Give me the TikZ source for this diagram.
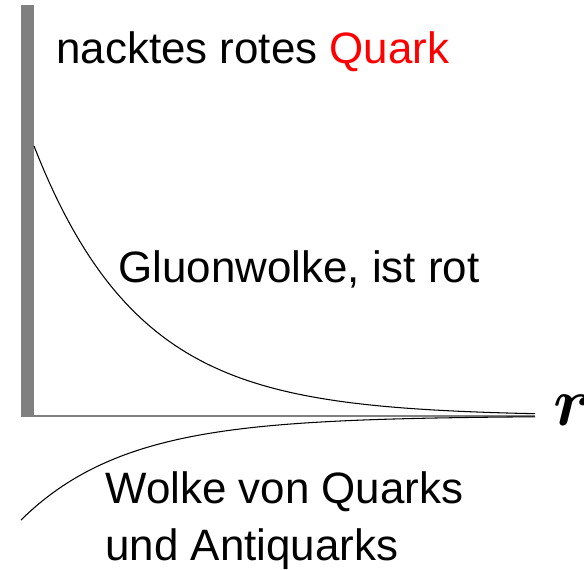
\documentclass[tikz,border=0pt]{standalone}
\usepackage{amsmath,amssymb}
\usepackage{xcolor}
\usepackage{fontspec}
\setmainfont{Liberation Sans}
\usepackage{tikz}

\begin{document}
\begin{tikzpicture}[
    x=0.02cm, y=-0.02cm,
    txt/.style={
        anchor=base west,
        inner sep=0pt,
        font=\fontsize{25}{32}\selectfont,
        align=left
    },
    rsym/.style={anchor=base west, inner sep=0pt},
    cloudline/.style={line width=0.6pt, black},
    raxis/.style={line width=0.9pt, gray}
]
\useasboundingbox (0,0) rectangle (584,570);

% quark wall and r axis
\fill[gray] (21,5) rectangle (34,417);
\draw[raxis] (21,416) -- (535,416);
\node[rsym] (rlabel) at (553,425) {\scalebox{3.9}{\ensuremath{\boldsymbol{r}}}};

% the two clouds
\draw[cloudline] plot[domain=34:535, samples=100] (\x, {416-270*exp(-0.0095*(\x-34))});
\draw[cloudline] plot[domain=21:535, samples=100] (\x, {416+104*exp(-0.0095*(\x-21))});

\node[txt] (quark) at (56,64) {nacktes rotes \textcolor{red}{Quark}};
\node[txt] (gluon) at (118,283) {Gluonwolke, ist rot};
\node[txt] (seaq) at (105,503) {Wolke von Quarks};
\node[txt] (seaqbar) at (105,560) {und Antiquarks};

\end{tikzpicture}
\end{document}
